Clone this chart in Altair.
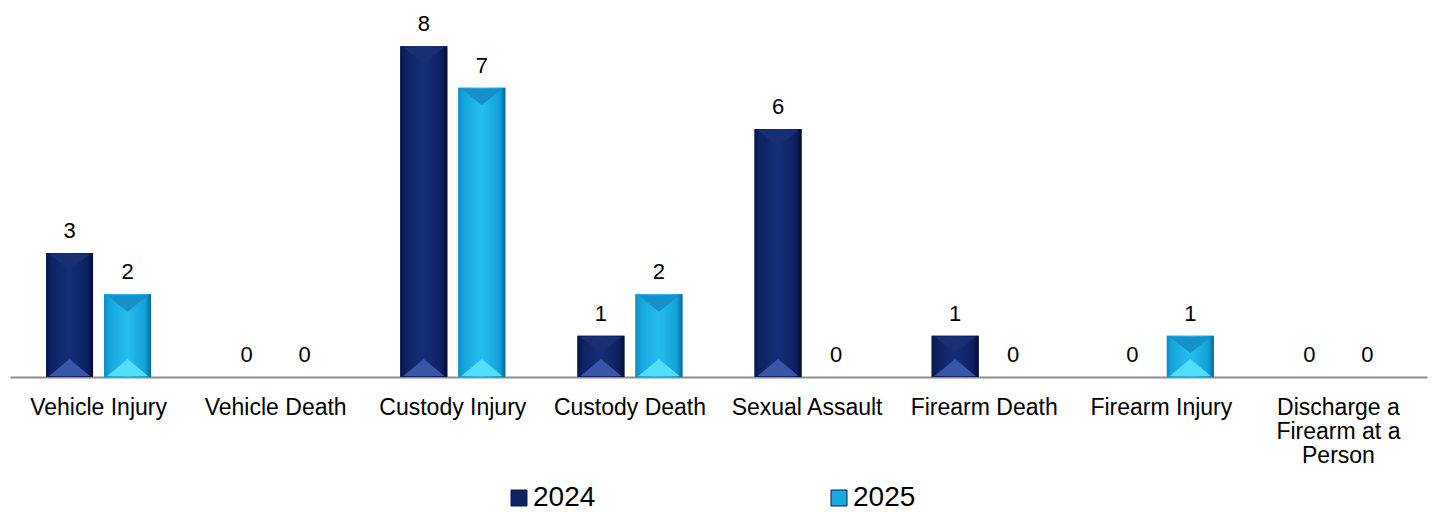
import altair as alt
import pandas as pd

categories = ["Vehicle Injury", "Vehicle Death", "Custody Injury", "Custody Death",
              "Sexual Assault", "Firearm Death", "Firearm Injury",
              "Discharge a Firearm at a Person"]
years = ["2024", "2025"]
values_2024 = [3, 0, 8, 1, 6, 1, 0, 0]
values_2025 = [2, 0, 7, 2, 0, 0, 1, 0]

rows = []
for c, a, b in zip(categories, values_2024, values_2025):
    rows.append({"category": c, "year": "2024", "value": a, "base": 0})
    rows.append({"category": c, "year": "2025", "value": b, "base": 0})
df = pd.DataFrame(rows)

FONT = "Liberation Sans"
navy = "#0E2263"
cyan = "#17A8E0"

x = alt.X("category:N", sort=categories, title=None,
          scale=alt.Scale(paddingInner=0.407, paddingOuter=0.2035),
          axis=alt.Axis(labelAngle=0, ticks=False, labelPadding=19,
                        labelFontSize=23, labelFont=FONT, labelColor="#000000",
                        labelLimit=300, labelOverlap=False, labelLineHeight=24,
                        domainColor="#8C8C8C", domainWidth=2,
                        labelExpr="datum.label == 'Discharge a Firearm at a Person' ? ['Discharge a', 'Firearm at a', 'Person'] : datum.label"))
xo = alt.XOffset("year:N", sort=years, scale=alt.Scale(paddingInner=0.19, paddingOuter=0))
yscale = alt.Scale(domain=[0, 9], nice=False)
y = alt.Y("value:Q", scale=yscale, axis=None)
y0 = alt.Y("base:Q", scale=yscale, axis=None)

base = alt.Chart(df)

legend_bars = base.mark_bar().encode(
    x=x, xOffset=xo, y=y,
    color=alt.Color("year:N", sort=years,
                    scale=alt.Scale(domain=years, range=[navy, cyan]),
                    legend=alt.Legend(title=None, orient="none", legendX=495, legendY=479,
                                      direction="horizontal", columns=2, columnPadding=229,
                                      symbolType="square", symbolSize=256,
                                      symbolStrokeWidth=1, symbolStrokeColor="#0A1A50",
                                      labelFontSize=28, labelFont=FONT, labelColor="#000000",
                                      labelOffset=0, padding=0)),
)

grad_navy = alt.Gradient(gradient="linear", x1=0, x2=1, y1=0, y2=0, stops=[
    alt.GradientStop(color="#08174A", offset=0),
    alt.GradientStop(color="#0E2263", offset=0.12),
    alt.GradientStop(color="#14307A", offset=0.5),
    alt.GradientStop(color="#0D2060", offset=0.88),
    alt.GradientStop(color="#030B30", offset=1),
])
grad_cyan = alt.Gradient(gradient="linear", x1=0, x2=1, y1=0, y2=0, stops=[
    alt.GradientStop(color="#0C8CC2", offset=0),
    alt.GradientStop(color="#15A6DE", offset=0.12),
    alt.GradientStop(color="#27BDF0", offset=0.5),
    alt.GradientStop(color="#12A0D8", offset=0.88),
    alt.GradientStop(color="#086690", offset=1),
])

bars_2024 = base.transform_filter(alt.datum.year == "2024").mark_bar(
    color=grad_navy).encode(x=x, xOffset=xo, y=y)
bars_2025 = base.transform_filter(alt.datum.year == "2025").mark_bar(
    color=grad_cyan).encode(x=x, xOffset=xo, y=y)

tri_up = "M-1,0L1,0L0,-0.83Z"
tri_down = "M-1,0L1,0L0,0.8Z"

def tri(year, color, shape, at_top):
    yy = y if at_top else y0
    return base.transform_filter(
        "datum.year == '%s' && datum.value > 0" % year
    ).mark_point(shape=shape, filled=True, size=1681, color=color, opacity=1,
                 strokeWidth=0, yOffset=(1 if at_top else -1)).encode(x=x, xOffset=xo, y=yy)

tris = [
    tri("2024", "#3A56A8", tri_up, False),
    tri("2025", "#52DEFF", tri_up, False),
    tri("2024", "#1A2E72", tri_down, True),
    tri("2025", "#1590C8", tri_down, True),
]

labels = base.mark_text(baseline="bottom", dy=-10, fontSize=22, font=FONT,
                        color="#000000").encode(
    x=x, xOffset=xo, y=y, text=alt.Text("value:Q"))

chart = alt.layer(legend_bars, bars_2024, bars_2025, *tris, labels).properties(
    width=1417, height=372,
    autosize=alt.AutoSizeParams(type="none"),
    padding={"left": 10, "top": 5, "right": 7, "bottom": 135},
    background="#FFFFFF",
).configure_view(stroke=None)

chart.save("out.html", embed_options={"renderer": "svg", "actions": False})
